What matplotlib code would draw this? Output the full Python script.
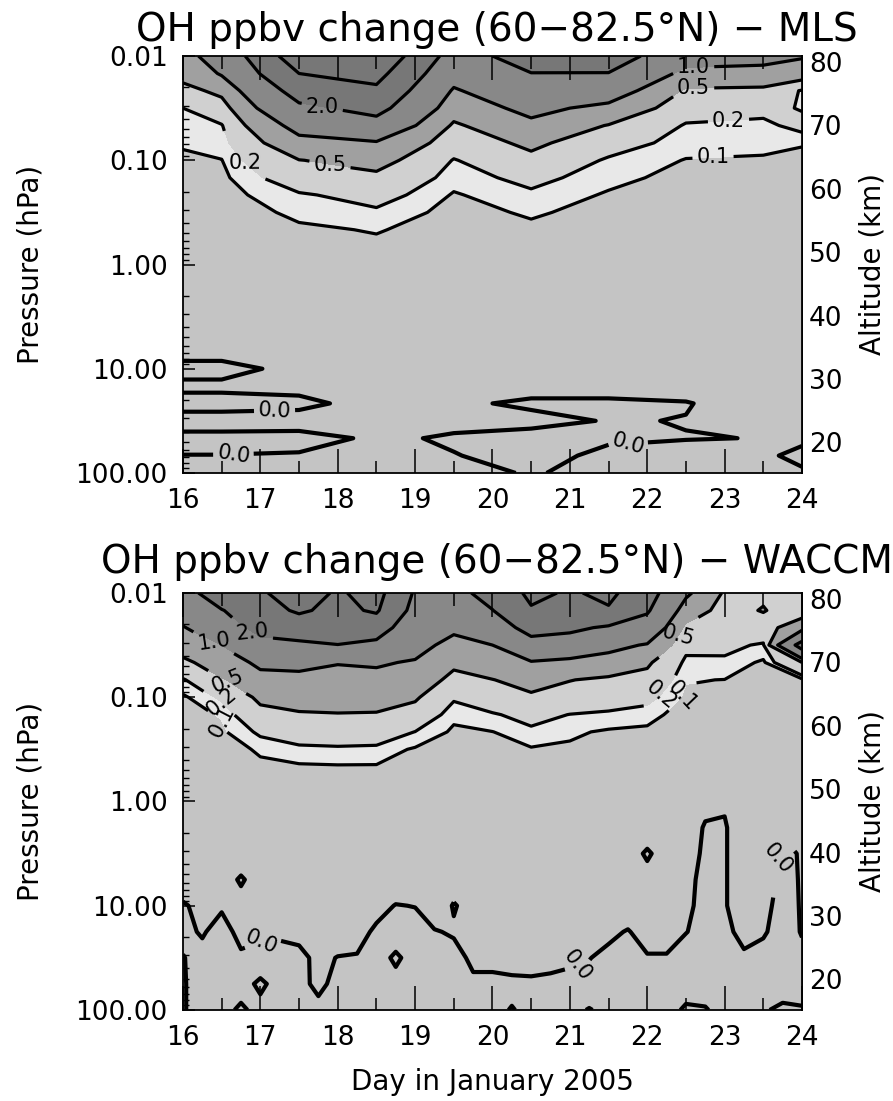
import numpy as np
import matplotlib.pyplot as plt
from matplotlib.ticker import (LogLocator, NullFormatter, NullLocator,
                               MultipleLocator, FixedLocator, FuncFormatter)

plt.rcParams['font.family'] = ['DejaVu Sans']
plt.rcParams['axes.linewidth'] = 1.3

#====================1======================
#        MLS OH change (ppbv), day x hPa
#===========================================
mls_days = [16.0, 16.5, 17.5, 18.5, 19.5, 20.5, 21.5, 22.5, 23.5, 24.0]
mls_pres = [0.01, 0.0147, 0.0215, 0.0316, 0.0464, 0.0681, 0.1, 0.147, 0.215,
            0.316, 0.464, 0.681, 1.0, 3.16, 6.81, 10.0, 14.7, 21.5, 31.6,
            46.4, 68.1, 100.0]
mls_oh = [
    [0.80, 1.30, 3.60, 3.80, 1.60, 2.40, 2.50, 1.30, 1.20, 1.05],
    [0.60, 1.05, 3.00, 3.30, 1.25, 1.98, 1.97, 0.81, 0.78, 0.66],
    [0.40, 0.58, 2.40, 2.80, 0.93, 1.58, 1.33, 0.44, 0.41, 0.18],
    [0.20, 0.34, 1.79, 2.30, 0.66, 1.17, 0.83, 0.29, 0.24, 0.19],
    [0.155, 0.187, 1.21, 1.58, 0.444, 0.84, 0.48, 0.182, 0.166, 0.25],
    [0.11, 0.139, 0.80, 0.94, 0.305, 0.575, 0.29, 0.137, 0.12, 0.105],
    [0.08, 0.097, 0.49, 0.63, 0.188, 0.40, 0.174, 0.095, 0.09, 0.08],
    [0.06, 0.075, 0.31, 0.41, 0.135, 0.25, 0.127, 0.07, 0.07, 0.06],
    [0.05, 0.06, 0.179, 0.27, 0.09, 0.167, 0.088, 0.055, 0.055, 0.05],
    [0.04, 0.045, 0.123, 0.168, 0.065, 0.113, 0.065, 0.045, 0.045, 0.04],
    [0.03, 0.035, 0.08, 0.108, 0.05, 0.075, 0.05, 0.035, 0.035, 0.035],
    [0.03, 0.03, 0.06, 0.07, 0.04, 0.055, 0.04, 0.03, 0.03, 0.03],
    [0.02, 0.02, 0.04, 0.05, 0.03, 0.04, 0.03, 0.02, 0.02, 0.02],
    [0.02, 0.02, 0.02, 0.02, 0.02, 0.02, 0.02, 0.02, 0.02, 0.02],
    [0.02, 0.02, 0.02, 0.02, 0.02, 0.02, 0.02, 0.02, 0.02, 0.02],
    [-0.02, -0.02, 0.018, 0.02, 0.02, 0.02, 0.02, 0.02, 0.02, 0.02],
    [0.015, 0.015, 0.02, 0.02, 0.02, 0.02, 0.02, 0.02, 0.02, 0.02],
    [-0.03, -0.03, -0.02, 0.03, 0.01, -0.01, -0.01, -0.003, 0.027, 0.02],
    [0.04, 0.04, 0.04, 0.02, 0.02, 0.02, -0.004, 0.002, 0.02, 0.02],
    [-0.03, -0.03, -0.035, 0.015, -0.01, -0.03, -0.01, -0.002, 0.001, 0.02],
    [0.002, 0.002, 0.01, 0.02, 0.0035, -0.03, 0.02, 0.023, 0.02, -0.03],
    [0.02, 0.02, 0.02, 0.02, 0.02, -0.005, 0.02, 0.02, 0.02, 0.02],
]

#====================2======================
#     WACCM OH change, mesosphere part
#===========================================
wac_days = [16.0, 16.5, 17.0, 17.5, 18.0, 18.5, 19.0, 19.5, 20.0, 20.5,
            21.0, 21.5, 22.0, 22.5, 23.0, 23.5, 24.0]
wac_pres = [0.01, 0.0147, 0.0215, 0.0316, 0.0464, 0.0681, 0.1, 0.147,
            0.215, 0.316, 0.464, 0.681, 1.0]
wac_oh = [
    [1.6, 2.6, 2.9, 3.4, 2.9, 3.3, 1.9, 1.75, 2.3, 3.2, 2.9, 3.2, 2.4, 1.1, 0.45, 0.45, 0.35],
    [1.3, 1.95, 2.7, 3.1, 2.8, 3.1, 1.7, 1.45, 1.98, 2.9, 2.75, 2.9, 2.1, 0.71, 0.38, 0.52, 0.30],
    [0.96, 1.48, 2.3, 2.5, 2.5, 2.4, 1.45, 1.1, 1.48, 2.35, 2.2, 1.87, 1.52, 0.42, 0.30, 0.32, 0.80],
    [0.68, 1.0, 1.67, 1.8, 1.98, 1.78, 1.2, 0.82, 1.0, 1.58, 1.43, 1.18, 0.95, 0.25, 0.24, 0.18, 2.4],
    [0.41, 0.72, 1.11, 1.13, 1.02, 1.06, 0.95, 0.57, 0.74, 0.95, 0.85, 0.72, 0.55, 0.16, 0.17, 0.08, 0.50],
    [0.18, 0.455, 0.81, 0.85, 0.83, 0.83, 0.75, 0.39, 0.49, 0.65, 0.51, 0.44, 0.385, 0.106, 0.098, 0.065, 0.07],
    [0.08, 0.227, 0.57, 0.65, 0.66, 0.65, 0.54, 0.22, 0.33, 0.43, 0.35, 0.30, 0.25, 0.08, 0.07, 0.055, 0.05],
    [0.06, 0.108, 0.39, 0.46, 0.48, 0.47, 0.36, 0.123, 0.18, 0.27, 0.195, 0.168, 0.13, 0.06, 0.055, 0.045, 0.045],
    [0.05, 0.08, 0.227, 0.30, 0.32, 0.31, 0.197, 0.08, 0.098, 0.158, 0.118, 0.085, 0.08, 0.05, 0.045, 0.04, 0.04],
    [0.04, 0.06, 0.1125, 0.16, 0.17, 0.16, 0.085, 0.06, 0.07, 0.09, 0.08, 0.065, 0.06, 0.04, 0.04, 0.035, 0.035],
    [0.03, 0.045, 0.08, 0.085, 0.09, 0.09, 0.065, 0.05, 0.055, 0.07, 0.06, 0.05, 0.05, 0.035, 0.03, 0.03, 0.03],
    [0.03, 0.035, 0.06, 0.065, 0.07, 0.07, 0.05, 0.04, 0.045, 0.055, 0.05, 0.04, 0.04, 0.03, 0.03, 0.025, 0.025],
    [0.02, 0.03, 0.05, 0.05, 0.05, 0.05, 0.04, 0.03, 0.035, 0.04, 0.04, 0.035, 0.03, 0.025, 0.02, 0.02, 0.02],
]

#====================3======================
#     WACCM OH change, stratosphere part
#===========================================
wlo_days = [16.0, 16.25, 16.5, 16.75, 17.0, 17.25, 17.5, 17.75, 18.0, 18.25,
            18.5, 18.75, 19.0, 19.25, 19.5, 19.75, 20.0, 20.25, 20.5, 20.75,
            21.0, 21.25, 21.5, 21.75, 22.0, 22.25, 22.5, 22.75, 23.0, 23.25,
            23.5, 23.75, 24.0]
wlo_pres = [1.0, 1.78, 3.16, 5.62, 10.0, 17.8, 31.6, 56.2, 100.0]
wlo_oh = [
    [.02, .02, .02, .02, .02, .02, .02, .02, .02, .02, .02, .02, .02, .02, .02, .02, .02,
     .02, .02, .02, .02, .02, .02, .02, .02, .02, .02, .012, .006, .02, .02, .02, .02],
    [.02, .02, .02, .02, .02, .02, .02, .02, .02, .02, .02, .02, .02, .02, .02, .02, .02,
     .02, .02, .02, .02, .02, .02, .02, .02, .02, .03, -.005, -.006, .04, .02, .002, .01],
    [.02, .02, .02, .02, .02, .02, .02, .02, .02, .02, .02, .02, .02, .02, .02, .02, .02,
     .02, .02, .02, .02, .02, .02, .02, -.006, .02, .03, -.012, -.006, .04, .03, -.008, .003],
    [.032, .02, .02, -.005, .02, .02, .02, .02, .02, .02, .02, .037, .02, .02, .02, .02, .02,
     .02, .02, .02, .02, .02, .02, .02, .02, .02, .02, -.02, -.006, .04, .025, -.015, .004],
    [-.008, .02, .008, .02, .02, .02, .02, .02, .02, .02, .024, -.003, .002, .035, -.004, .02, .02,
     .02, .02, .02, .02, .02, .02, .035, .02, .02, .02, -.03, -.006, .04, .02, -.025, .005],
    [-.02, .008, -.032, .024, .013, .011, .018, .02, .037, .032, -.016, -.02, -.038, -.005, .008, .02, .02,
     .02, .02, .02, .02, .02, .016, -.005, .032, .032, .002, -.02, -.02, .024, .008, -.03, .004],
    [.004, -.032, -.02, -.016, -.027, -.029, -.022, .02, -.003, -.008, -.02, .008, -.02, -.02, -.032, .019, .019,
     .024, .026, .021, .013, .003, -.024, -.02, -.008, -.008, -.038, -.02, -.02, -.016, -.032, -.02, -.02],
    [.004, -.02, -.02, -.02, .01, -.02, -.02, .016, -.02, -.02, -.02, -.02, -.02, -.02, -.02, -.021, -.021,
     -.016, -.014, -.019, -.027, -.037, -.02, -.02, -.02, -.02, -.02, -.02, -.02, -.02, -.02, -.02, -.02],
    [.004, -.02, -.02, .01, -.02, -.02, -.02, -.024, -.02, -.02, -.02, -.02, -.02, -.02, -.02, -.02, -.02,
     .004, -.02, -.02, -.02, .004, -.02, -.02, -.02, -.02, .008, .004, -.02, -.02, -.005, .01, .005],
]

line_levels = [0.0, 0.1, 0.2, 0.5, 1.0, 2.0, 3.0]
fill_levels = [-1.0, 0.0, 0.1, 0.2, 0.5, 1.0, 2.0, 3.0, 10.0]
fill_colors = ['#c4c4c4', '#c4c4c4', '#e8e8e8', '#d0d0d0', '#a0a0a0',
               '#888888', '#777777', '#777777']

# contour label spots (day, hPa) for each level
mls_labels = {2.0: [(17.8, 0.0316)], 1.0: [(22.6, 0.0123)],
              0.5: [(17.9, 0.098), (22.6, 0.020)],
              0.2: [(16.8, 0.079), (23.05, 0.034)], 0.1: [(22.85, 0.089)],
              0.0: [(17.18, 24.0), (16.58, 59.0), (21.67, 47.0)]}
wac_labels = {1.0: [(16.4, 0.028)], 2.0: [(16.9, 0.0224)],
              0.5: [(16.6, 0.063), (22.4, 0.025)],
              0.2: [(16.55, 0.10), (22.05, 0.071)],
              0.1: [(16.75, 0.158), (22.35, 0.089)]}
wlo_labels = {0.0: [(17.0, 21.4), (21.05, 36.3), (23.62, 3.16)]}

H, P0 = 7.14, 837.0
def p2z(p):
    return H*np.log(P0/np.clip(p, 1e-6, None))
def z2p(z):
    return P0*np.exp(-np.asarray(z)/H)

#====================4======================
#          plots
#===========================================
fig = plt.figure(figsize=(8.93, 11.01), dpi=100)
ax1 = fig.add_axes([0.2049, 0.5704, 0.6932, 0.3787])
ax2 = fig.add_axes([0.2049, 0.0827, 0.6932, 0.3787])

def draw(ax, days, pres, val, labels):
    val = np.array(val)
    ax.contourf(days, pres, val, levels=fill_levels, colors=fill_colors)
    for lev in line_levels:
        if not (val.min() < lev < val.max()):
            continue
        cs = ax.contour(days, pres, val, levels=[lev], colors='k',
                        linewidths=3.0 if lev == 0.0 else 2.3)
        if lev in labels:
            ax.clabel(cs, manual=labels[lev], inline=True, fmt='%.1f',
                      fontsize=15, inline_spacing=4)

draw(ax1, mls_days, mls_pres, mls_oh, mls_labels)
draw(ax2, wac_days, wac_pres, wac_oh, wac_labels)
draw(ax2, wlo_days, wlo_pres, wlo_oh, wlo_labels)

for ax in (ax1, ax2):
    ax.set_yscale('log')
    ax.set_ylim(100, 0.01)
    ax.set_xlim(16, 24)
    ax.set_yticks([0.01, 0.1, 1, 10, 100])
    ax.set_yticklabels(['0.01', '0.10', '1.00', '10.00', '100.00'])
    ax.yaxis.set_minor_locator(LogLocator(base=10, subs=np.arange(2, 10)))
    ax.yaxis.set_minor_formatter(NullFormatter())
    ax.xaxis.set_major_locator(MultipleLocator(1))
    ax.xaxis.set_minor_locator(MultipleLocator(0.5))
    ax.tick_params(axis='x', which='major', direction='in', length=17,
                   width=1.1, top=True, labelsize=19, pad=11)
    ax.tick_params(axis='x', which='minor', direction='in', length=9,
                   width=1.1, top=True)
    ax.tick_params(axis='y', which='major', direction='in', length=8.5,
                   width=1.1, right=False, labelsize=19, pad=11)
    ax.tick_params(axis='y', which='minor', direction='in', length=4.5,
                   width=1.0, right=False)
    sec = ax.secondary_yaxis('right', functions=(p2z, z2p))
    sec.yaxis.set_major_locator(FixedLocator([20, 30, 40, 50, 60, 70, 80]))
    sec.yaxis.set_major_formatter(FuncFormatter(lambda v, pos: '%d' % round(v)))
    sec.yaxis.set_minor_locator(NullLocator())
    sec.yaxis.set_minor_formatter(NullFormatter())
    sec.tick_params(direction='in', length=7, width=1.1, labelsize=19, pad=5)

fig.text(0.556, 0.973, 'OH ppbv change (60\u221282.5\u00b0N) \u2212 MLS',
         ha='center', va='center', fontsize=28)
fig.text(0.556, 0.4896, 'OH ppbv change (60\u221282.5\u00b0N) \u2212 WACCM',
         ha='center', va='center', fontsize=28)
for yc in (0.760, 0.2725):
    fig.text(0.0336, yc, 'Pressure (hPa)', rotation=90, ha='center',
             va='center', fontsize=20)
    fig.text(0.9776, yc, 'Altitude (km)', rotation=90, ha='center',
             va='center', fontsize=20)
fig.text(0.551, 0.0173, 'Day in January 2005', ha='center', va='center',
         fontsize=20)

fig.savefig('out.png', dpi=100)
